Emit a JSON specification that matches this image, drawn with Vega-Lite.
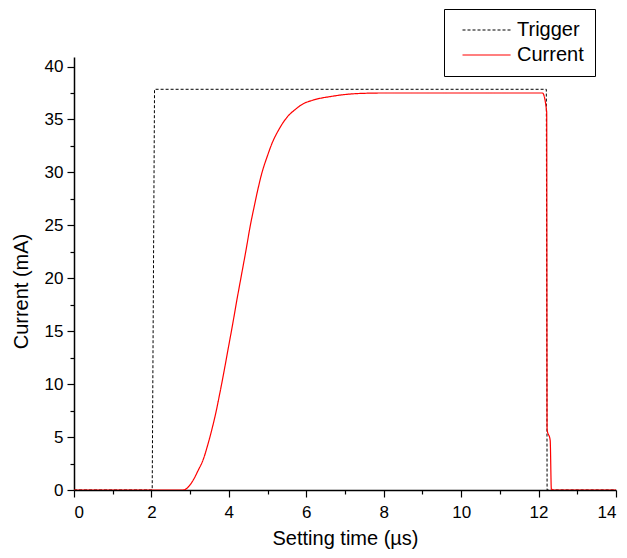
{
  "$schema": "https://vega.github.io/schema/vega-lite/v6.json",
  "width": 542,
  "height": 433,
  "autosize": "none",
  "padding": {"left": 74, "top": 57, "right": 11, "bottom": 68},
  "background": "white",
  "config": {
    "view": {"stroke": null},
    "font": "Liberation Sans",
    "axis": {"grid": false, "domainColor": "black", "tickColor": "black", "labelColor": "black", "titleColor": "black", "labelFont": "Liberation Sans", "titleFont": "Liberation Sans", "titleFontWeight": "normal"},
    "legend": {"labelFont": "Liberation Sans"}
  },
  "datasets": {
    "trigger": [
      {"t": 0, "v": 0, "series": "Trigger"},
      {"t": 2.02, "v": 0, "series": "Trigger"},
      {"t": 2.08, "v": 37.85, "series": "Trigger"},
      {"t": 12.2, "v": 37.85, "series": "Trigger"},
      {"t": 12.22, "v": 0, "series": "Trigger"},
      {"t": 14, "v": 0, "series": "Trigger"}
    ],
    "current": [
      {"t": 0, "v": 0, "series": "Current"},
      {"t": 2.8, "v": 0, "series": "Current"},
      {"t": 2.87, "v": 0.05, "series": "Current"},
      {"t": 3.0, "v": 0.5, "series": "Current"},
      {"t": 3.08, "v": 0.94, "series": "Current"},
      {"t": 3.2, "v": 1.8, "series": "Current"},
      {"t": 3.34, "v": 2.9, "series": "Current"},
      {"t": 3.45, "v": 4.2, "series": "Current"},
      {"t": 3.56, "v": 5.7, "series": "Current"},
      {"t": 3.67, "v": 7.4, "series": "Current"},
      {"t": 3.77, "v": 9.2, "series": "Current"},
      {"t": 3.88, "v": 11.3, "series": "Current"},
      {"t": 3.99, "v": 13.5, "series": "Current"},
      {"t": 4.1, "v": 15.7, "series": "Current"},
      {"t": 4.2, "v": 17.8, "series": "Current"},
      {"t": 4.32, "v": 20.2, "series": "Current"},
      {"t": 4.45, "v": 22.8, "series": "Current"},
      {"t": 4.55, "v": 24.9, "series": "Current"},
      {"t": 4.65, "v": 26.7, "series": "Current"},
      {"t": 4.75, "v": 28.4, "series": "Current"},
      {"t": 4.85, "v": 29.9, "series": "Current"},
      {"t": 5.0, "v": 31.6, "series": "Current"},
      {"t": 5.11, "v": 32.7, "series": "Current"},
      {"t": 5.3, "v": 34.1, "series": "Current"},
      {"t": 5.5, "v": 35.2, "series": "Current"},
      {"t": 5.7, "v": 35.9, "series": "Current"},
      {"t": 5.93, "v": 36.5, "series": "Current"},
      {"t": 6.15, "v": 36.8, "series": "Current"},
      {"t": 6.36, "v": 37.0, "series": "Current"},
      {"t": 6.6, "v": 37.15, "series": "Current"},
      {"t": 6.87, "v": 37.3, "series": "Current"},
      {"t": 7.34, "v": 37.45, "series": "Current"},
      {"t": 8, "v": 37.5, "series": "Current"},
      {"t": 10, "v": 37.5, "series": "Current"},
      {"t": 12.1, "v": 37.5, "series": "Current"},
      {"t": 12.21, "v": 35.7, "series": "Current"},
      {"t": 12.22, "v": 5.7, "series": "Current"},
      {"t": 12.3, "v": 4.7, "series": "Current"},
      {"t": 12.33, "v": 0.1, "series": "Current"},
      {"t": 12.4, "v": 0, "series": "Current"},
      {"t": 14, "v": 0, "series": "Current"}
    ]
  },
  "layer": [
    {
      "data": {"name": "trigger"},
      "mark": {"type": "line", "strokeWidth": 1, "clip": true},
      "encoding": {
        "x": {"field": "t", "type": "quantitative", "scale": {"domain": [0, 14], "nice": false},
              "axis": {"orient": "bottom", "values": [1, 3, 5, 7, 9, 11, 13], "labels": false, "domain": false, "tickSize": 4, "tickWidth": 1.2, "title": null}},
        "y": {"field": "v", "type": "quantitative", "scale": {"domain": [0, 40.9], "nice": false, "zero": false},
              "axis": {"orient": "left", "values": [2.5, 7.5, 12.5, 17.5, 22.5, 27.5, 32.5, 37.5], "labels": false, "domain": false, "tickSize": 4, "tickWidth": 1.2, "title": null}},
        "color": {"field": "series", "type": "nominal", "scale": {"domain": ["Trigger", "Current"], "range": ["black", "#ff0000"]},
                  "legend": {"orient": "none", "legendX": 370, "legendY": -48, "title": null, "symbolType": "M-1,0L6.4,0", "symbolSize": 169, "symbolStrokeWidth": 1.2, "labelFontSize": 20, "labelColor": "black", "labelOffset": 38, "padding": 11, "rowPadding": 5, "strokeColor": "black", "fillColor": "white", "symbolOffset": 4}},
        "strokeDash": {"field": "series", "type": "nominal", "scale": {"domain": ["Trigger", "Current"], "range": [[3, 2], [1, 0]]}, "legend": null}
      }
    },
    {
      "data": {"name": "current"},
      "mark": {"type": "line", "strokeWidth": 1.2, "clip": true, "interpolate": "monotone"},
      "encoding": {
        "x": {"field": "t", "type": "quantitative", "scale": {"domain": [0, 14], "nice": false},
              "axis": {"orient": "bottom", "values": [0, 2, 4, 6, 8, 10, 12, 14], "tickSize": 7, "tickWidth": 1.2, "domainWidth": 1.5, "labelFontSize": 17, "labelPadding": 7, "title": "Setting time (µs)", "titleFontSize": 20, "titlePadding": 8}},
        "y": {"field": "v", "type": "quantitative", "scale": {"domain": [0, 40.9], "nice": false, "zero": false},
              "axis": {"orient": "left", "values": [0, 5, 10, 15, 20, 25, 30, 35, 40], "tickSize": 7, "tickWidth": 1.2, "domainWidth": 1.5, "labelFontSize": 17, "labelPadding": 4, "title": "Current (mA)", "titleFontSize": 20, "titlePadding": 13, "titleY": 234}},
        "color": {"field": "series", "type": "nominal", "scale": {"domain": ["Trigger", "Current"], "range": ["black", "#ff0000"]}},
        "strokeDash": {"field": "series", "type": "nominal", "scale": {"domain": ["Trigger", "Current"], "range": [[3, 2], [1, 0]]}, "legend": null}
      }
    }
  ],
  "resolve": {"axis": {"x": "independent", "y": "independent"}}
}
